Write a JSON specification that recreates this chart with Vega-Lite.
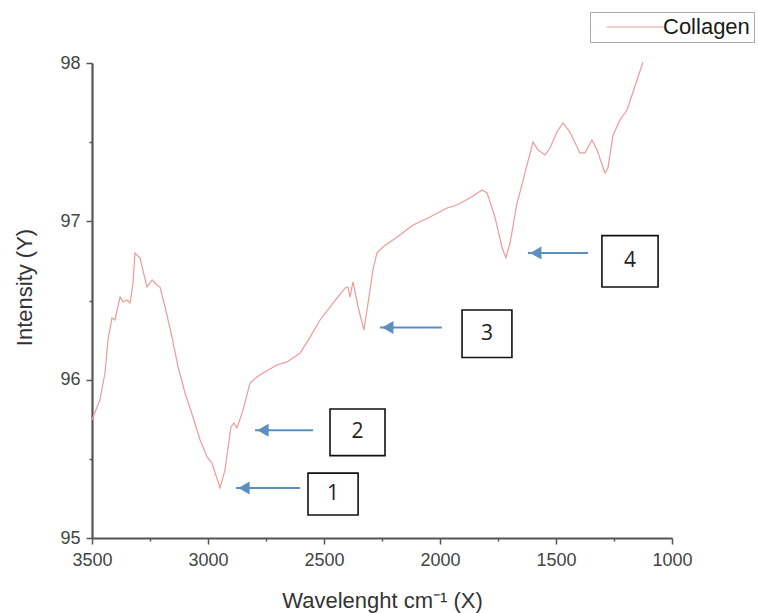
{
  "$schema": "https://vega.github.io/schema/vega-lite/v6.json",
  "width": 580,
  "height": 475,
  "autosize": "none",
  "padding": {"left": 92, "top": 63, "right": 86, "bottom": 75},
  "background": "white",
  "config": {
    "view": {"stroke": null},
    "font": "Liberation Sans"
  },
  "layer": [
    {
      "data": {"values": [
        {"w": 3500, "i": 95.745, "s": "Collagen"},
        {"w": 3466, "i": 95.872, "s": "Collagen"},
        {"w": 3444, "i": 96.042, "s": "Collagen"},
        {"w": 3431, "i": 96.251, "s": "Collagen"},
        {"w": 3414, "i": 96.39, "s": "Collagen"},
        {"w": 3401, "i": 96.377, "s": "Collagen"},
        {"w": 3379, "i": 96.522, "s": "Collagen"},
        {"w": 3366, "i": 96.491, "s": "Collagen"},
        {"w": 3349, "i": 96.503, "s": "Collagen"},
        {"w": 3336, "i": 96.484, "s": "Collagen"},
        {"w": 3323, "i": 96.611, "s": "Collagen"},
        {"w": 3315, "i": 96.8, "s": "Collagen"},
        {"w": 3293, "i": 96.768, "s": "Collagen"},
        {"w": 3263, "i": 96.585, "s": "Collagen"},
        {"w": 3241, "i": 96.63, "s": "Collagen"},
        {"w": 3220, "i": 96.598, "s": "Collagen"},
        {"w": 3207, "i": 96.585, "s": "Collagen"},
        {"w": 3185, "i": 96.459, "s": "Collagen"},
        {"w": 3155, "i": 96.269, "s": "Collagen"},
        {"w": 3129, "i": 96.08, "s": "Collagen"},
        {"w": 3099, "i": 95.916, "s": "Collagen"},
        {"w": 3065, "i": 95.764, "s": "Collagen"},
        {"w": 3034, "i": 95.619, "s": "Collagen"},
        {"w": 3004, "i": 95.512, "s": "Collagen"},
        {"w": 2983, "i": 95.474, "s": "Collagen"},
        {"w": 2948, "i": 95.316, "s": "Collagen"},
        {"w": 2927, "i": 95.429, "s": "Collagen"},
        {"w": 2901, "i": 95.701, "s": "Collagen"},
        {"w": 2888, "i": 95.726, "s": "Collagen"},
        {"w": 2875, "i": 95.695, "s": "Collagen"},
        {"w": 2849, "i": 95.808, "s": "Collagen"},
        {"w": 2819, "i": 95.979, "s": "Collagen"},
        {"w": 2789, "i": 96.017, "s": "Collagen"},
        {"w": 2763, "i": 96.042, "s": "Collagen"},
        {"w": 2703, "i": 96.093, "s": "Collagen"},
        {"w": 2659, "i": 96.112, "s": "Collagen"},
        {"w": 2603, "i": 96.168, "s": "Collagen"},
        {"w": 2560, "i": 96.269, "s": "Collagen"},
        {"w": 2517, "i": 96.377, "s": "Collagen"},
        {"w": 2461, "i": 96.484, "s": "Collagen"},
        {"w": 2409, "i": 96.579, "s": "Collagen"},
        {"w": 2397, "i": 96.585, "s": "Collagen"},
        {"w": 2388, "i": 96.522, "s": "Collagen"},
        {"w": 2375, "i": 96.617, "s": "Collagen"},
        {"w": 2353, "i": 96.459, "s": "Collagen"},
        {"w": 2328, "i": 96.314, "s": "Collagen"},
        {"w": 2310, "i": 96.484, "s": "Collagen"},
        {"w": 2289, "i": 96.693, "s": "Collagen"},
        {"w": 2272, "i": 96.8, "s": "Collagen"},
        {"w": 2246, "i": 96.838, "s": "Collagen"},
        {"w": 2185, "i": 96.901, "s": "Collagen"},
        {"w": 2116, "i": 96.977, "s": "Collagen"},
        {"w": 2043, "i": 97.027, "s": "Collagen"},
        {"w": 1970, "i": 97.084, "s": "Collagen"},
        {"w": 1927, "i": 97.103, "s": "Collagen"},
        {"w": 1871, "i": 97.147, "s": "Collagen"},
        {"w": 1819, "i": 97.198, "s": "Collagen"},
        {"w": 1797, "i": 97.179, "s": "Collagen"},
        {"w": 1763, "i": 97.027, "s": "Collagen"},
        {"w": 1733, "i": 96.838, "s": "Collagen"},
        {"w": 1716, "i": 96.768, "s": "Collagen"},
        {"w": 1698, "i": 96.863, "s": "Collagen"},
        {"w": 1668, "i": 97.116, "s": "Collagen"},
        {"w": 1655, "i": 97.185, "s": "Collagen"},
        {"w": 1625, "i": 97.356, "s": "Collagen"},
        {"w": 1599, "i": 97.501, "s": "Collagen"},
        {"w": 1578, "i": 97.451, "s": "Collagen"},
        {"w": 1547, "i": 97.419, "s": "Collagen"},
        {"w": 1526, "i": 97.463, "s": "Collagen"},
        {"w": 1496, "i": 97.564, "s": "Collagen"},
        {"w": 1470, "i": 97.621, "s": "Collagen"},
        {"w": 1440, "i": 97.564, "s": "Collagen"},
        {"w": 1397, "i": 97.432, "s": "Collagen"},
        {"w": 1375, "i": 97.432, "s": "Collagen"},
        {"w": 1345, "i": 97.514, "s": "Collagen"},
        {"w": 1323, "i": 97.451, "s": "Collagen"},
        {"w": 1289, "i": 97.305, "s": "Collagen"},
        {"w": 1276, "i": 97.337, "s": "Collagen"},
        {"w": 1254, "i": 97.545, "s": "Collagen"},
        {"w": 1224, "i": 97.64, "s": "Collagen"},
        {"w": 1194, "i": 97.703, "s": "Collagen"},
        {"w": 1168, "i": 97.817, "s": "Collagen"},
        {"w": 1125, "i": 98.006, "s": "Collagen"}
      ]},
      "mark": {"type": "line", "strokeWidth": 1.2, "clip": false},
      "encoding": {
        "x": {
          "field": "w", "type": "quantitative",
          "scale": {"domain": [1000, 3500], "reverse": true, "nice": false, "zero": false},
          "axis": {
            "title": "Wavelenght cm⁻¹ (X)",
            "values": [3500, 3250, 3000, 2750, 2500, 2250, 2000, 1750, 1500, 1250, 1000],
            "labelExpr": "datum.value % 500 === 0 ? datum.value : ''",
            "labelFlush": false,
            "labelOverlap": false,
            "grid": false,
            "domainColor": "#555555", "domainWidth": 2.2,
            "tickColor": "#555555", "tickWidth": 1.5,
            "tickSize": {"condition": {"test": "datum.value % 500 === 0", "value": 6}, "value": 3},
            "labelFontSize": 18, "labelColor": "#444444", "labelPadding": 7,
            "labelFont": "Liberation Sans",
            "titleFontSize": 22, "titleColor": "#333333", "titleFontWeight": "normal",
            "titleFont": "Liberation Sans",
            "titleX": 290, "titleY": 62, "titleBaseline": "middle"
          }
        },
        "y": {
          "field": "i", "type": "quantitative",
          "scale": {"domain": [95, 98], "nice": false, "zero": false},
          "axis": {
            "title": "Intensity (Y)",
            "values": [95, 95.5, 96, 96.5, 97, 97.5, 98],
            "labelExpr": "datum.value % 1 === 0 ? datum.value : ''",
            "labelFlush": false,
            "labelOverlap": false,
            "grid": false,
            "domainColor": "#555555", "domainWidth": 2.2,
            "tickColor": "#555555", "tickWidth": 1.5,
            "tickSize": {"condition": {"test": "datum.value % 1 === 0", "value": 6}, "value": 3},
            "labelFontSize": 18, "labelColor": "#444444", "labelPadding": 6,
            "labelFont": "Liberation Sans",
            "titleFontSize": 22, "titleColor": "#333333", "titleFontWeight": "normal",
            "titleFont": "Liberation Sans",
            "titleX": -68, "titleY": 224, "titleBaseline": "middle"
          }
        },
        "color": {
          "field": "s", "type": "nominal",
          "scale": {"range": ["#ee9a9a"]},
          "legend": {
            "title": null,
            "orient": "none",
            "legendX": 498,
            "legendY": -51,
            "symbolType": "M-3,0H3",
            "symbolSize": 361,
            "symbolStrokeWidth": 1.2,
            "symbolOffset": 30,
            "labelOffset": 17,
            "labelFontSize": 22,
            "labelColor": "#1a1a1a",
            "labelFont": "Liberation Sans",
            "strokeColor": "#aaaaaa",
            "padding": 4,
            "fillColor": "white"
          }
        }
      }
    },
    {
      "data": {"values": [
        {"tail": 2603, "tip": 2879, "y": 95.316},
        {"tail": 2547, "tip": 2797, "y": 95.68},
        {"tail": 1992, "tip": 2259, "y": 96.33},
        {"tail": 1362, "tip": 1621, "y": 96.8}
      ]},
      "mark": {"type": "rule", "color": "#5b8fc0", "strokeWidth": 2},
      "encoding": {
        "x": {"field": "tail", "type": "quantitative"},
        "x2": {"field": "tip"},
        "y": {"field": "y", "type": "quantitative"}
      }
    },
    {
      "data": {"values": [
        {"head": 2845, "y": 95.316},
        {"head": 2763, "y": 95.68},
        {"head": 2225, "y": 96.33},
        {"head": 1587, "y": 96.8}
      ]},
      "mark": {"type": "point", "shape": "triangle-left", "filled": true, "color": "#5b8fc0", "size": 170, "opacity": 1},
      "encoding": {
        "x": {"field": "head", "type": "quantitative"},
        "y": {"field": "y", "type": "quantitative"}
      }
    },
    {
      "data": {"values": [
        {"x1": 2569, "x2": 2353, "y1": 95.41, "y2": 95.145, "label": "1", "cx": 2461, "cy": 95.28},
        {"x1": 2474, "x2": 2237, "y1": 95.815, "y2": 95.52, "label": "2", "cx": 2356, "cy": 95.67},
        {"x1": 1905, "x2": 1690, "y1": 96.44, "y2": 96.14, "label": "3", "cx": 1797, "cy": 96.29},
        {"x1": 1302, "x2": 1060, "y1": 96.91, "y2": 96.585, "label": "4", "cx": 1181, "cy": 96.75}
      ]},
      "layer": [
        {
          "mark": {"type": "rect", "fill": "white", "stroke": "#111111", "strokeWidth": 1.6},
          "encoding": {
            "x": {"field": "x1", "type": "quantitative"},
            "x2": {"field": "x2"},
            "y": {"field": "y1", "type": "quantitative"},
            "y2": {"field": "y2"}
          }
        },
        {
          "mark": {"type": "text", "fontSize": 21, "font": "Open Sans", "color": "#222222", "align": "center", "baseline": "middle"},
          "encoding": {
            "x": {"field": "cx", "type": "quantitative"},
            "y": {"field": "cy", "type": "quantitative"},
            "text": {"field": "label"}
          }
        }
      ]
    }
  ]
}
